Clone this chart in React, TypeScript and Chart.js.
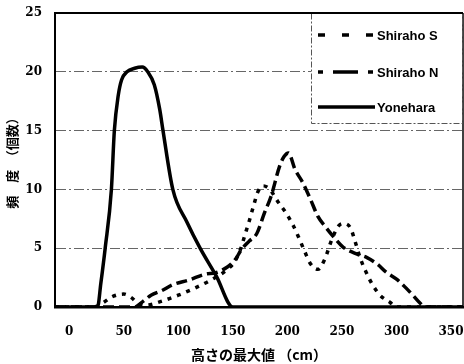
import React, { useEffect, useRef } from "react";
import { Chart, registerables } from "chart.js";

Chart.register(...registerables);

// ---- data ----
const xTickValues = [0, 50, 100, 150, 200, 250, 300, 350];
const xMin = -13;
const xMax = 361;
const yMin = 0;
const yMax = 25;
const yStep = 5;

const seriesNames = ["Shiraho S", "Shiraho N", "Yonehara"];
const xTitle = "高さの最大値 （cm）";
const yTitle = "頻　度　（個数）";

const shirahoSX = [-13, 22, 30, 40, 50, 57, 63, 70, 85, 100, 115, 130, 145, 152, 157, 161, 165, 169, 173, 178, 184, 191, 198, 205, 210, 216, 221, 228, 234, 241, 247, 252, 258, 262, 267, 272, 278, 285, 294, 300, 361];
const shirahoSY = [0, 0, 0.3, 0.9, 1.1, 0.8, 0.3, 0.15, 0.5, 1.0, 1.6, 2.3, 3.2, 3.9, 4.9, 6.1, 7.3, 8.6, 9.8, 10.3, 10.0, 9.0, 8.1, 7.0, 6.0, 4.7, 3.7, 3.2, 4.0, 5.8, 6.9, 7.1, 6.7, 5.6, 4.1, 3.0, 1.9, 1.0, 0.4, 0, 0];

const shirahoNX = [-13, 60, 68, 75, 85, 95, 110, 125, 134, 145, 152, 158, 165, 172, 179, 185, 193, 197, 201, 207, 214, 221, 228, 235, 242, 251, 264, 273, 283, 290, 301, 310, 316, 322, 326, 361];
const shirahoNY = [0, 0, 0.5, 1.0, 1.4, 1.9, 2.3, 2.8, 2.9, 3.4, 4.0, 4.9, 5.6, 6.25, 8.0, 9.4, 12.0, 12.8, 13.1, 11.7, 10.6, 9.2, 7.7, 6.8, 6.0, 5.1, 4.5, 4.2, 3.6, 3.0, 2.3, 1.5, 0.9, 0.3, 0, 0];

const yoneharaX = [-13, 26, 29, 33, 38.7, 41.4, 45, 48, 53, 60, 67, 72, 78, 83, 86, 95, 108, 120, 135, 150, 361];
const yoneharaY = [0, 0, 2, 5, 10, 15, 18, 19.3, 20, 20.3, 20.4, 20, 18.9, 16.8, 15, 10, 7.2, 5, 2.6, 0, 0];

const toPoints = (xs: number[], ys: number[]) => xs.map((x, i) => ({ x, y: ys[i] }));

const lineDashes: number[][] = [[4, 6], [11, 5], []];

const framePlugin = {
  id: "frameAndLegend",
  afterDatasetsDraw(chart: any) {
    const { ctx, chartArea } = chart;
    const { left, right, top, bottom } = chartArea;
    ctx.save();
    ctx.strokeStyle = "#000";
    ctx.lineWidth = 2;
    ctx.setLineDash([]);
    ctx.beginPath();
    ctx.moveTo(left, top);
    ctx.lineTo(right, top);
    ctx.stroke();
    ctx.lineWidth = 1.5;
    ctx.beginPath();
    ctx.moveTo(right, top);
    ctx.lineTo(right, bottom);
    ctx.stroke();

    // legend box
    const bw = 152;
    const bh = 110;
    const bx = right - bw;
    const by = top;
    ctx.fillStyle = "#fff";
    ctx.fillRect(bx, by + 1, bw - 1, bh - 1);
    ctx.strokeStyle = "#555";
    ctx.lineWidth = 1;
    ctx.setLineDash([6, 2, 2, 2]);
    ctx.strokeRect(bx + 0.5, by + 0.5, bw - 1, bh);
    ctx.setLineDash([]);
    ctx.strokeStyle = "#000";
    ctx.lineWidth = 2;
    ctx.beginPath();
    ctx.moveTo(bx, top);
    ctx.lineTo(right, top);
    ctx.stroke();

    const rowsY = [by + 22, by + 59, by + 94];
    const legendDash = [[7, 17], [5, 10, 25, 10], []];
    ctx.font = "bold 13px 'Liberation Sans', Arial, sans-serif";
    ctx.textBaseline = "middle";
    ctx.textAlign = "left";
    seriesNames.forEach((name, i) => {
      const y = rowsY[i];
      ctx.strokeStyle = "#000";
      ctx.lineWidth = 3.5;
      ctx.setLineDash(legendDash[i]);
      ctx.beginPath();
      ctx.moveTo(bx + 7, y);
      ctx.lineTo(bx + 64, y);
      ctx.stroke();
      ctx.setLineDash([]);
      ctx.fillStyle = "#000";
      ctx.fillText(name, bx + 66, y + 1);
    });
    ctx.restore();
  },
};

export default function App() {
  const canvasRef = useRef<HTMLCanvasElement | null>(null);

  useEffect(() => {
    const canvas = canvasRef.current;
    if (!canvas) return;
    const mk = (i: number, xs: number[], ys: number[]) => ({
      label: seriesNames[i],
      data: toPoints(xs, ys),
      borderColor: "#000",
      borderWidth: 3.5,
      borderDash: lineDashes[i],
      pointRadius: 0,
      cubicInterpolationMode: "monotone",
      fill: false,
    });
    const chart = new Chart(canvas, {
      type: "line",
      data: {
        datasets: [
          mk(0, shirahoSX, shirahoSY),
          mk(1, shirahoNX, shirahoNY),
          mk(2, yoneharaX, yoneharaY),
        ],
      },
      options: {
        responsive: false,
        animation: false,
        maintainAspectRatio: false,
        layout: { padding: { left: 0, top: 13, right: 1, bottom: 0 } },
        plugins: {
          legend: { display: false },
          tooltip: { enabled: false },
        },
        scales: {
          x: {
            type: "linear",
            min: xMin,
            max: xMax,
            afterBuildTicks: (scale: any) => {
              scale.ticks = xTickValues.map((v) => ({ value: v }));
            },
            afterFit: (scale: any) => {
              scale.height = 57;
              scale.paddingLeft = 0;
              scale.paddingRight = 0;
            },
            grid: { display: false, drawTicks: false },
            border: { display: true, color: "#000", width: 2.5 },
            ticks: {
              padding: 18,
              color: "#000",
              font: { family: "'DejaVu Serif', serif", weight: "bold", size: 12 },
              maxRotation: 0,
              autoSkip: false,
            },
            title: {
              display: true,
              text: xTitle,
              color: "#000",
              font: { family: "'Noto Sans CJK JP', sans-serif", weight: "bold", size: 14 },
              padding: { top: 0, bottom: 1 },
            },
          },
          y: {
            type: "linear",
            min: yMin,
            max: yMax,
            ticks: {
              stepSize: yStep,
              padding: 13,
              color: "#000",
              font: { family: "'DejaVu Serif', serif", weight: "bold", size: 12 },
            },
            afterFit: (scale: any) => {
              scale.width = 55;
              scale.paddingTop = 0;
              scale.paddingBottom = 0;
            },
            grid: {
              drawTicks: false,
              color: (c: any) => (c.tick && (c.tick.value === yMin || c.tick.value === yMax) ? "rgba(0,0,0,0)" : "#666"),
              lineWidth: 1,
            },
            border: { display: true, color: "#000", width: 2, dash: [10, 3, 2, 3] },
            title: {
              display: true,
              text: yTitle,
              color: "#000",
              font: { family: "'Noto Sans CJK JP', sans-serif", weight: "bold", size: 13 },
              padding: { top: 4, bottom: 0 },
            },
          },
        },
      },
      plugins: [framePlugin],
    } as any);
    return () => chart.destroy();
  }, []);

  return (
    <div style={{ position: "absolute", left: 0, top: 0, width: 464, height: 364, background: "#fff" }}>
      <canvas ref={canvasRef} width={464} height={364} style={{ width: 464, height: 364, display: "block" }} />
    </div>
  );
}
